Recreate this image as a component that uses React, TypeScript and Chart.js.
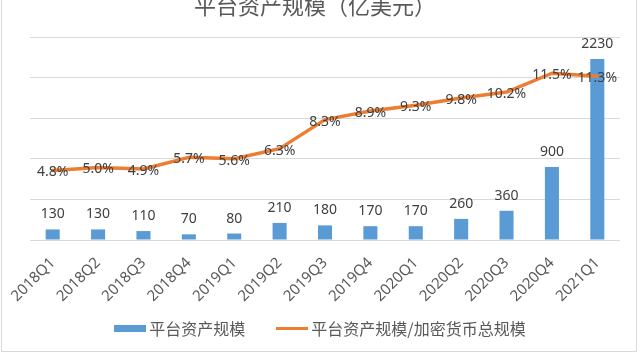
import React, { useEffect, useRef } from "react";
import { Chart, registerables } from "chart.js";

Chart.register(...registerables);

const categories = ["2018Q1", "2018Q2", "2018Q3", "2018Q4", "2019Q1", "2019Q2", "2019Q3", "2019Q4", "2020Q1", "2020Q2", "2020Q3", "2020Q4", "2021Q1"];
const assetValues = [130, 130, 110, 70, 80, 210, 180, 170, 170, 260, 360, 900, 2230];
const shareValues = [4.8, 5.0, 4.9, 5.7, 5.6, 6.3, 8.3, 8.9, 9.3, 9.8, 10.2, 11.5, 11.3];
const barLabel = "平台资产规模";
const lineLabel = "平台资产规模/加密货币总规模";
const titleText = "平台资产规模（亿美元）";

const BAR_COLOR = "#5b9bd5";
const LINE_COLOR = "#ed7d31";
const NUM_FONT = "'Noto Sans', 'Open Sans', sans-serif";
const CJK_FONT = "'Noto Sans CJK SC', 'Noto Sans', sans-serif";

const labelPlugin = {
  id: "customLabels",
  afterDatasetsDraw(chart: any) {
    const ctx = chart.ctx;
    ctx.save();
    ctx.fillStyle = "#404040";
    ctx.font = `14px ${NUM_FONT}`;
    ctx.textAlign = "center";
    const barMeta = chart.getDatasetMeta(0);
    barMeta.data.forEach((el: any, i: number) => {
      ctx.textBaseline = "alphabetic";
      ctx.fillText(String(assetValues[i]), el.x, el.y - 11);
    });
    const lineMeta = chart.getDatasetMeta(1);
    lineMeta.data.forEach((el: any, i: number) => {
      ctx.textBaseline = "middle";
      ctx.fillText(shareValues[i].toFixed(1) + "%", el.x, el.y + 2);
    });
    ctx.restore();
  },
  afterDraw(chart: any) {
    const ctx = chart.ctx;
    ctx.save();
    ctx.fillStyle = "#595959";
    ctx.font = `22px ${CJK_FONT}`;
    ctx.textAlign = "center";
    ctx.textBaseline = "alphabetic";
    ctx.fillText(titleText, 315, 14);
    ctx.restore();
  },
};

export default function App() {
  const canvasRef = useRef<HTMLCanvasElement | null>(null);

  useEffect(() => {
    const canvas = canvasRef.current;
    if (!canvas) return;
    const chart = new Chart(canvas, {
      type: "bar",
      data: {
        labels: categories,
        datasets: [
          {
            type: "bar",
            label: barLabel,
            data: assetValues,
            backgroundColor: BAR_COLOR,
            borderWidth: 0,
            yAxisID: "y",
            order: 2,
            categoryPercentage: 1,
            barPercentage: 0.31,
          } as any,
          {
            type: "line",
            label: lineLabel,
            data: shareValues,
            borderColor: LINE_COLOR,
            backgroundColor: LINE_COLOR,
            borderWidth: 3.5,
            borderJoinStyle: "round",
            borderCapStyle: "round",
            pointRadius: 0,
            tension: 0,
            yAxisID: "y2",
            order: 1,
          } as any,
        ],
      },
      options: {
        responsive: false,
        animation: false,
        layout: { padding: { left: 30, right: 20, top: 37, bottom: 50 } },
        plugins: {
          tooltip: { enabled: false },
          title: { display: false },
          legend: { display: false },
        },
        scales: {
          x: {
            grid: { display: false },
            border: { display: false },
            ticks: {
              minRotation: 45,
              maxRotation: 45,
              autoSkip: false,
              padding: 6,
              color: "#595959",
              font: { family: NUM_FONT, size: 15 },
            },
            afterFit: (scale: any) => {
              scale.height = 65;
            },
          },
          y: {
            min: 0,
            max: 2500,
            ticks: { display: false, stepSize: 500 },
            grid: { color: "#d9d9d9", lineWidth: 1, drawTicks: false },
            border: { display: false },
            afterFit: (scale: any) => {
              scale.width = 0;
            },
          },
          y2: {
            display: false,
            min: 0,
            max: 14,
            position: "right",
          },
        },
      } as any,
      plugins: [labelPlugin],
    });
    return () => chart.destroy();
  }, []);

  const textStyle: React.CSSProperties = {
    fontFamily: CJK_FONT,
    fontSize: 16,
    color: "#595959",
    lineHeight: "20px",
    whiteSpace: "nowrap",
  };

  return (
    <div style={{ position: "fixed", left: 0, top: 0, width: 640, height: 355, background: "#ffffff", overflow: "hidden" }}>
      <div style={{ position: "absolute", left: 1, top: -10, width: 636, height: 362, border: "1px solid #d9d9d9", boxSizing: "border-box" }} />
      <canvas ref={canvasRef} width={640} height={355} style={{ position: "absolute", left: 0, top: 0, display: "block" }} />
      <div style={{ position: "absolute", left: 0, top: 318, width: 640, height: 20, display: "flex", justifyContent: "center", alignItems: "center" }}>
        <div style={{ display: "flex", alignItems: "center" }}>
          <span style={{ display: "inline-block", width: 32, height: 7, background: BAR_COLOR, marginRight: 3 }} />
          <span style={textStyle}>{barLabel}</span>
        </div>
        <div style={{ display: "flex", alignItems: "center", marginLeft: 31 }}>
          <span style={{ display: "inline-block", width: 32, height: 3, background: LINE_COLOR, marginRight: 3 }} />
          <span style={textStyle}>{lineLabel}</span>
        </div>
      </div>
    </div>
  );
}
